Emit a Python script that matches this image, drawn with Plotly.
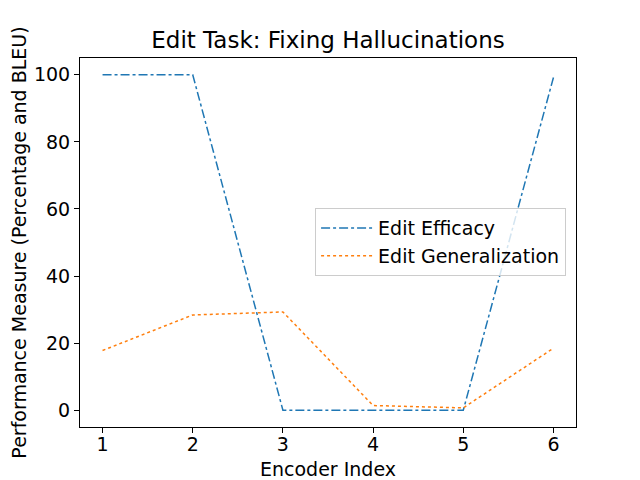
import plotly.graph_objects as go

encoder_index = [1, 2, 3, 4, 5, 6]
edit_efficacy = [100, 100, 0, 0, 0, 99.2]
edit_generalization = [17.8, 28.4, 29.3, 1.4, 0.7, 18.5]

FONT = "DejaVu Sans"
W, H = 632, 472  # page has an 8px body margin
fig = go.Figure()
fig.add_trace(go.Scatter(x=encoder_index, y=edit_efficacy, mode="lines", name="Edit Efficacy",
                         line=dict(color="#1f77b4", width=1.5, dash="dashdot")))
fig.add_trace(go.Scatter(x=encoder_index, y=edit_generalization, mode="lines", name="Edit Generalization",
                         line=dict(color="#ff7f0e", width=1.5, dash="dot")))

axis_common = dict(showline=True, linecolor="black", linewidth=1, mirror=True, showgrid=False,
                   zeroline=False, ticks="outside", ticklen=5, tickcolor="black", automargin=False,
                   tickfont=dict(family=FONT, size=19, color="black"))
fig.update_layout(
    width=W, height=H,
    margin=dict(l=72, r=64, t=49.6, b=52.8),
    paper_bgcolor="white", plot_bgcolor="white",
    title=dict(text="Edit Task: Fixing Hallucinations", x=(72 + 568) / 2 / W, xanchor="center",
               y=1 - 40 / H, yanchor="bottom",
               font=dict(family=FONT, size=23, color="black")),
    xaxis=dict(range=[0.75, 6.25], tickvals=encoder_index, ticklabelstandoff=-5,
               title=dict(text="Encoder Index", font=dict(family=FONT, size=19, color="black"), standoff=18),
               **axis_common),
    yaxis=dict(range=[-5, 105], tickvals=[0, 20, 40, 60, 80, 100],
               title=dict(text="Performance Measure (Percentage and BLEU)",
                          font=dict(family=FONT, size=19, color="black"), standoff=4),
               **axis_common),
    legend=dict(x=0.98, xanchor="right", y=0.501, yanchor="middle", itemwidth=52,
                bgcolor="rgba(255,255,255,0.8)", bordercolor="#cccccc", borderwidth=1,
                font=dict(family=FONT, size=19, color="black")),
    showlegend=True,
)
fig.write_html("out.html")
